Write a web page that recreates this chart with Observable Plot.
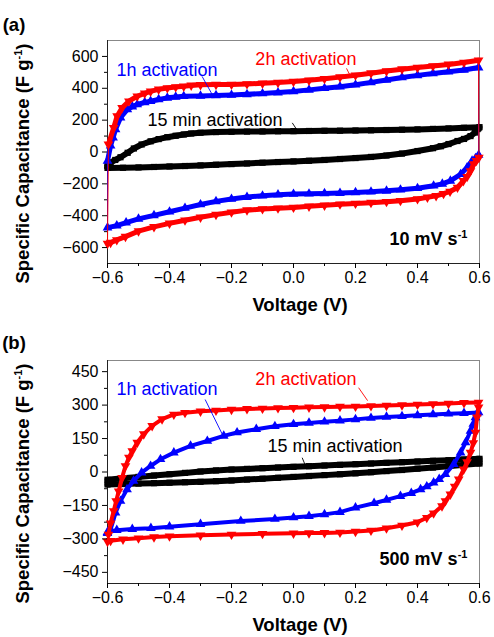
<!DOCTYPE html>
<html><head><meta charset="utf-8">
<script src="https://cdn.jsdelivr.net/npm/d3@7"></script>
<script src="https://cdn.jsdelivr.net/npm/@observablehq/plot@0.6"></script>
<style>
body{margin:0;background:#fff;}
#chart{width:494px;}
svg{display:block;}
</style></head><body><div id="chart"></div>
<script>
// ---------- DATA (voltage V, specific capacitance F/g) ----------
// Panel (a): 10 mV/s
const a15minFwd = [[-0.6,-85],[-0.59,-67],[-0.575,-50],[-0.558,-33],[-0.535,-5],[-0.515,22],[-0.49,47],[-0.461,67],[-0.435,81],[-0.407,93],[-0.38,102],[-0.354,110],[-0.33,116],[-0.3,121],[-0.25,125],[-0.2,127],[-0.15,128],[-0.1,129],[-0.05,130],[0,131],[0.05,132],[0.1,133],[0.15,134],[0.2,135],[0.25,136],[0.3,138],[0.35,140],[0.4,142],[0.45,145],[0.5,148],[0.55,152],[0.6,156]];
const a15minRev = [[0.597,150],[0.594,144],[0.585,122],[0.571,100],[0.55,82],[0.529,69],[0.5,50],[0.475,36],[0.45,24],[0.4,6],[0.35,-10],[0.3,-22],[0.25,-31],[0.2,-38],[0.15,-44],[0.1,-50],[0.05,-55],[0,-59],[-0.05,-63],[-0.1,-67],[-0.15,-72],[-0.2,-76],[-0.25,-80],[-0.3,-84],[-0.35,-88],[-0.4,-91],[-0.45,-94],[-0.5,-97],[-0.55,-99],[-0.6,-100]];
const a1hFwd = [[-0.6,-56],[-0.59,40],[-0.582,90],[-0.574,142],[-0.558,215],[-0.536,267],[-0.52,285],[-0.504,298],[-0.48,311],[-0.461,319],[-0.435,330],[-0.407,340],[-0.38,346],[-0.354,350],[-0.3,352],[-0.25,355],[-0.2,358],[-0.15,362],[-0.1,367],[-0.05,373],[0,380],[0.05,390],[0.1,400],[0.15,410],[0.2,422],[0.25,437],[0.3,452],[0.35,468],[0.4,481],[0.45,493],[0.5,504],[0.55,515],[0.597,530]];
const a1hRev = [[0.597,-19],[0.587,-40],[0.576,-56],[0.56,-98],[0.539,-140],[0.506,-181],[0.48,-200],[0.452,-212],[0.4,-228],[0.345,-237],[0.3,-244],[0.25,-250],[0.2,-254],[0.15,-258],[0.1,-260],[0.05,-262],[0,-264],[-0.05,-268],[-0.1,-275],[-0.15,-283],[-0.2,-295],[-0.25,-310],[-0.3,-330],[-0.35,-352],[-0.4,-375],[-0.45,-398],[-0.5,-420],[-0.54,-444],[-0.57,-462],[-0.6,-475]];
const a2hFwd = [[-0.597,48],[-0.58,152],[-0.569,225],[-0.553,277],[-0.531,319],[-0.504,350],[-0.48,368],[-0.461,381],[-0.435,393],[-0.407,402],[-0.38,408],[-0.354,412],[-0.33,418],[-0.3,422],[-0.25,423],[-0.2,424],[-0.15,427],[-0.1,431],[-0.05,436],[0,442],[0.05,450],[0.1,460],[0.15,470],[0.2,482],[0.25,495],[0.3,508],[0.35,520],[0.4,530],[0.45,540],[0.5,550],[0.55,562],[0.597,576]];
const a2hRev = [[0.598,-35],[0.59,-55],[0.581,-75],[0.571,-119],[0.56,-155],[0.548,-181],[0.529,-223],[0.505,-248],[0.484,-262],[0.46,-275],[0.432,-285],[0.4,-295],[0.345,-306],[0.3,-312],[0.25,-318],[0.2,-323],[0.15,-328],[0.1,-335],[0.05,-341],[0,-348],[-0.05,-353],[-0.1,-358],[-0.15,-365],[-0.2,-378],[-0.25,-393],[-0.3,-410],[-0.35,-428],[-0.4,-448],[-0.45,-470],[-0.5,-497],[-0.542,-531],[-0.57,-552],[-0.59,-569],[-0.6,-575]];

// Panel (b): 500 mV/s
const b15minFwd = [[-0.6,-35],[-0.55,-28],[-0.5,-22],[-0.45,-16],[-0.4,-10],[-0.35,-4],[-0.3,2],[-0.25,7],[-0.2,11],[-0.15,14],[-0.1,17],[-0.05,20],[0,23],[0.05,26],[0.1,29],[0.15,32],[0.2,35],[0.25,38],[0.3,41],[0.35,44],[0.4,47],[0.45,50],[0.5,53],[0.55,56],[0.6,59]];
const b15minRev = [[0.6,38],[0.55,32],[0.5,26],[0.45,20],[0.4,15],[0.35,9],[0.3,4],[0.25,-1],[0.2,-6],[0.15,-10],[0.1,-14],[0.05,-18],[0,-22],[-0.05,-26],[-0.1,-30],[-0.15,-34],[-0.2,-38],[-0.25,-41],[-0.3,-44],[-0.35,-46],[-0.4,-48],[-0.45,-50],[-0.5,-52],[-0.55,-54],[-0.6,-56]];
const b1hFwd = [[-0.6,-274],[-0.59,-258],[-0.574,-183],[-0.558,-130],[-0.537,-78],[-0.516,-40],[-0.49,-3],[-0.461,27],[-0.429,57],[-0.386,87],[-0.332,117],[-0.278,139],[-0.225,162],[-0.182,177],[-0.12,192],[-0.06,205],[0,214],[0.05,220],[0.1,225],[0.15,230],[0.2,236],[0.25,242],[0.3,247],[0.35,250],[0.4,254],[0.45,258],[0.5,261],[0.55,264],[0.597,267]];
const b1hRev = [[0.592,262],[0.587,245],[0.58,215],[0.571,184],[0.555,132],[0.539,87],[0.517,35],[0.49,-10],[0.47,-32],[0.452,-48],[0.43,-65],[0.41,-78],[0.38,-95],[0.345,-108],[0.3,-125],[0.26,-140],[0.2,-160],[0.15,-180],[0.1,-190],[0.05,-198],[0,-204],[-0.06,-211],[-0.17,-220],[-0.3,-234],[-0.4,-245],[-0.46,-252],[-0.52,-256],[-0.57,-261],[-0.6,-270]];
const b2hFwd = [[-0.597,-280],[-0.59,-230],[-0.58,-175],[-0.572,-130],[-0.564,-86],[-0.553,-26],[-0.542,27],[-0.531,65],[-0.52,94],[-0.504,132],[-0.483,170],[-0.456,207],[-0.424,237],[-0.386,258],[-0.35,266],[-0.3,272],[-0.25,276],[-0.2,280],[-0.15,283],[-0.1,285],[-0.05,287],[0,288],[0.05,290],[0.1,291],[0.15,293],[0.2,294],[0.25,296],[0.3,298],[0.35,300],[0.4,303],[0.45,305],[0.5,307],[0.55,310],[0.597,312]];
const b2hRev = [[0.597,290],[0.592,245],[0.587,177],[0.58,130],[0.571,87],[0.56,45],[0.549,12],[0.533,-33],[0.52,-65],[0.506,-100],[0.49,-130],[0.479,-153],[0.452,-185],[0.43,-205],[0.4,-225],[0.35,-240],[0.3,-252],[0.25,-262],[0.2,-267],[0.15,-271],[0.1,-273],[0.05,-274],[0,-275],[-0.1,-277],[-0.2,-280],[-0.3,-284],[-0.4,-288],[-0.45,-292],[-0.5,-297],[-0.55,-302],[-0.59,-308],[-0.6,-312]];

// ---------- TICKS & LABELS ----------
const xTicks = [-0.6,-0.4,-0.2,0,0.2,0.4,0.6];
const xMinor = [-0.5,-0.3,-0.1,0.1,0.3,0.5];
const yTicksA = [-600,-400,-200,0,200,400,600];
const yMinorA = [-500,-300,-100,100,300,500];
const yTicksB = [-450,-300,-150,0,150,300,450];
const yMinorB = [-375,-225,-75,75,225,375];
const seriesNames = ["15 min activation","1h activation","2h activation"];
const rateLabels = ["10 mV s⁻¹","500 mV s⁻¹"];
const panelLabels = ["(a)","(b)"];
const xTitle = "Voltage (V)";
const yTitle = "Specific Capacitance (F g⁻¹)";

const FONT = '"Liberation Sans", Arial, Helvetica, sans-serif';
const RED = "#ff0000", BLUE = "#0000ff", BLACK = "#000000";
const triangleDown = {draw(ctx, size) {
  const y = -Math.sqrt(size / (Math.sqrt(3) * 3));
  ctx.moveTo(0, -y * 2); ctx.lineTo(-Math.sqrt(3) * y, y); ctx.lineTo(Math.sqrt(3) * y, y); ctx.closePath();
}};

function applySup(node, fs) {
  const t = node.textContent;
  const i = t.indexOf("⁻¹");
  if (i < 0) return;
  const before = t.slice(0, i), after = t.slice(i + 2);
  const sel = d3.select(node);
  sel.text(before);
  sel.append("tspan").attr("font-size", Math.round(fs * 0.6)).attr("dy", -fs * 0.4).text("-1");
  if (after) sel.append("tspan").attr("dy", fs * 0.4).text(after);
}

function buildPanel(cfg) {
  const acc = {x: d => d[0], y: d => d[1]};
  const marks = [Plot.frame({stroke: "#888"}),
    Plot.ruleX([-0.6], {stroke: "#222"}),
    Plot.ruleY([cfg.yDomain[0]], {stroke: "#222"})];
  for (const s of cfg.series) {
    marks.push(Plot.line(s.fwd.concat(s.rev, [s.fwd[0]]), {...acc, stroke: s.color, strokeWidth: 1}));
    marks.push(Plot.line(s.fwd, {...acc, stroke: s.color, strokeWidth: s.band}));
    marks.push(Plot.line(s.rev, {...acc, stroke: s.color, strokeWidth: s.band}));
    marks.push(Plot.dot(s.fwd.concat(s.rev), {...acc, fill: s.color, symbol: s.symbol, r: s.r}));
  }
  for (const n of cfg.notes) {
    marks.push(Plot.link([n.lead], {x1: d => d[0], y1: d => d[1], x2: d => d[2], y2: d => d[3], stroke: n.color, strokeWidth: 0.9}));
    marks.push(Plot.text([n.text], {x: n.at[0], y: n.at[1], text: d => d, fill: n.color, textAnchor: "start", fontSize: 18}));
  }
  marks.push(Plot.text([cfg.rate], {x: cfg.rateAt[0], y: cfg.rateAt[1], text: d => d, textAnchor: "end", fontSize: 18, fontWeight: "bold", fill: "#000"}));
  marks.push(Plot.axisX({ticks: xTicks, tickSize: 5, tickPadding: 3, tickFormat: d3.format(".1f"), fontSize: 16, label: null}));
  marks.push(Plot.axisX({ticks: xMinor, tickSize: 3, tickFormat: () => "", label: null}));
  marks.push(Plot.axisY({ticks: cfg.yTicks, tickSize: 5, tickPadding: 4, tickFormat: d3.format("d"), fontSize: 16, label: null}));
  marks.push(Plot.axisY({ticks: cfg.yMinor, tickSize: 3, tickFormat: () => "", label: null}));

  const svg = Plot.plot({
    width: 494, height: cfg.height,
    marginTop: cfg.mt, marginBottom: cfg.mb, marginLeft: 107, marginRight: 15,
    x: {domain: [-0.6, 0.6]},
    y: {domain: cfg.yDomain},
    style: {fontFamily: FONT, fontSize: "16px", color: "#000", background: "#fff", overflow: "visible"},
    marks
  });
  const s = d3.select(svg);
  s.selectAll("text").each(function() { applySup(this, 18); });
  const plotBottom = cfg.height - cfg.mb;
  const plotMid = (cfg.mt + plotBottom) / 2;
  s.append("text").attr("x", 14).attr("y", 31).attr("font-family", FONT).attr("font-size", 18.5)
    .attr("font-weight", "bold").attr("fill", "#000").text(cfg.label);
  s.append("text").attr("x", 300).attr("y", plotBottom + 48).attr("text-anchor", "middle")
    .attr("font-family", FONT).attr("font-size", 18.5).attr("font-weight", "bold").attr("fill", "#000").text(xTitle);
  const yt = s.append("text").attr("transform", `translate(29,${plotMid + 12}) rotate(-90)`)
    .attr("text-anchor", "middle").attr("font-family", FONT).attr("font-size", 18.5)
    .attr("font-weight", "bold").attr("fill", "#000").text(yTitle);
  applySup(yt.node(), 18.5);
  return svg;
}

const panelA = buildPanel({
  height: 318, mt: 40, mb: 55, yDomain: [-700, 700], yTicks: yTicksA, yMinor: yMinorA, label: panelLabels[0],
  series: [
    {fwd: a15minFwd, rev: a15minRev, color: BLACK, symbol: "square", r: 3.5, band: 6},
    {fwd: a1hFwd, rev: a1hRev, color: BLUE, symbol: "triangle", r: 3.6, band: 5},
    {fwd: a2hFwd, rev: a2hRev, color: RED, symbol: triangleDown, r: 3.6, band: 5}
  ],
  notes: [
    {text: seriesNames[1], color: BLUE, at: [-0.571, 512], lead: [-0.295, 475, -0.262, 360]},
    {text: seriesNames[2], color: RED, at: [-0.123, 581], lead: [0.171, 525, 0.184, 475]},
    {text: seriesNames[0], color: BLACK, at: [-0.471, 200], lead: [-0.004, 183, 0.01, 142]}
  ],
  rate: rateLabels[0], rateAt: [0.561, -550]
});
const panelB = buildPanel({
  height: 319, mt: 42, mb: 54, yDomain: [-500, 500], yTicks: yTicksB, yMinor: yMinorB, label: panelLabels[1],
  series: [
    {fwd: b15minFwd, rev: b15minRev, color: BLACK, symbol: "square", r: 3.5, band: 6},
    {fwd: b1hFwd, rev: b1hRev, color: BLUE, symbol: "triangle", r: 3.6, band: 4},
    {fwd: b2hFwd, rev: b2hRev, color: RED, symbol: triangleDown, r: 3.6, band: 4}
  ],
  notes: [
    {text: seriesNames[1], color: BLUE, at: [-0.571, 373], lead: [-0.285, 325, -0.23, 170]},
    {text: seriesNames[2], color: RED, at: [-0.123, 418], lead: [0.21, 378, 0.239, 320]},
    {text: seriesNames[0], color: BLACK, at: [-0.084, 117], lead: [0.028, 64, 0.039, 27]}
  ],
  rate: rateLabels[1], rateAt: [0.561, -391]
});
document.getElementById("chart").append(panelA, panelB);
</script></body></html>
